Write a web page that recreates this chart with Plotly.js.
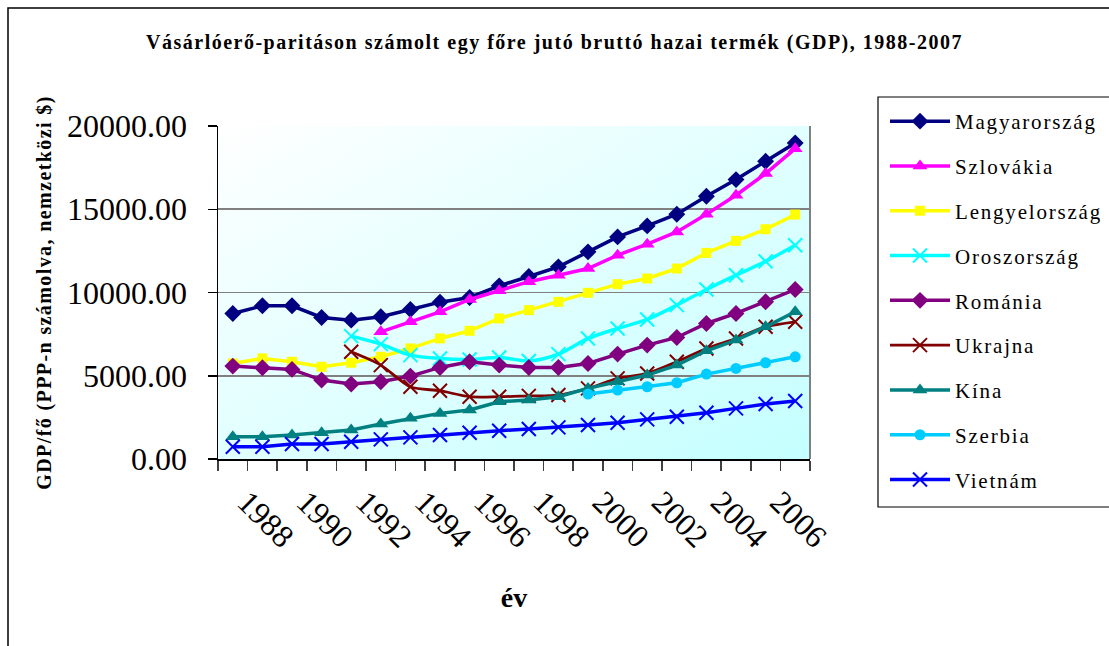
<!DOCTYPE html>
<html>
<head>
<meta charset="utf-8">
<script src="https://cdn.plot.ly/plotly-3.0.1.min.js"></script>
<style>
html,body{margin:0;padding:0;background:#fff;}
.gtitle{letter-spacing:1.5px;}
.ytitle{letter-spacing:1.4px;}
.legendtext{letter-spacing:1.8px;}
</style>
</head>
<body>
<div id="chart" style="width:1109px;height:646px;"></div>
<script>
const years = [1988,1989,1990,1991,1992,1993,1994,1995,1996,1997,1998,1999,2000,2001,2002,2003,2004,2005,2006,2007];
const tickYears = [1988,1990,1992,1994,1996,1998,2000,2002,2004,2006];
const tickLabels = ["1988","1990","1992","1994","1996","1998","2000","2002","2004","2006"];

const magyarorszag = [8740,9200,9200,8500,8340,8540,8980,9420,9700,10400,10960,11540,12440,13340,14000,14700,15780,16780,17880,18980];
const szlovakia = [null,null,null,null,null,7640,8240,8840,9580,10100,10650,11040,11440,12240,12900,13640,14700,15840,17140,18640];
const lengyelorszag = [5740,6040,5840,5540,5780,6140,6640,7240,7700,8440,8940,9440,9980,10500,10840,11440,12380,13100,13800,14680];
const oroszorszag = [null,null,null,null,7380,6900,6240,6040,5980,6100,5890,6300,7240,7840,8380,9240,10180,11040,11870,12840];
const romania = [5580,5480,5380,4740,4500,4640,4980,5500,5840,5640,5500,5500,5740,6300,6840,7300,8140,8740,9440,10180];
const ukrajna = [null,null,null,null,6440,5640,4340,4100,3740,3740,3790,3840,4240,4840,5140,5840,6640,7240,7940,8240];
const kina = [1340,1340,1440,1580,1740,2100,2440,2740,2940,3440,3540,3740,4240,4640,5040,5640,6500,7140,7940,8840];
const szerbia = [null,null,null,null,null,null,null,null,null,null,null,null,3900,4140,4340,4580,5100,5440,5780,6140];
const vietnam = [740,740,900,900,1040,1180,1300,1440,1580,1700,1800,1900,2040,2180,2380,2540,2780,3040,3300,3480];

const FONT = "'Liberation Serif', 'Times New Roman', serif";

function series(name, y, color, symbol, msize, opts) {
  opts = opts || {};
  const xm = symbol.indexOf('x') === 0;
  return {
    type: 'scatter', mode: 'lines+markers', name: name, x: years, y: y,
    legendgroup: name,
    connectgaps: false,
    line: {color: color, width: opts.lw || 3.5, shape: opts.spline ? 'spline' : 'linear', smoothing: 0.8},
    marker: {symbol: symbol, size: msize, color: color,
             line: xm ? {color: color, width: 2} : {width: 0}}
  };
}

const data = [
  series('Magyarország', magyarorszag, '#000080', 'diamond', 13),
  series('Szlovákia', szlovakia, '#FF00FF', 'triangle-up', 13),
  series('Lengyelország', lengyelorszag, '#FFFF00', 'square', 10),
  series('Oroszország', oroszorszag, '#00FFFF', 'x-thin-open', 14, {spline: true}),
  series('Románia', romania, '#800080', 'diamond', 13),
  series('Ukrajna', ukrajna, '#800000', 'x-thin-open', 14, {spline: true, lw: 2.8}),
  series('Kína', kina, '#008080', 'triangle-up', 13),
  series('Szerbia', szerbia, '#00CCFF', 'circle', 11),
  series('Vietnám', vietnam, '#0000FF', 'x-thin-open', 14)
];

// pixel helpers for decorations (plot area 218..810 x 126..459)
const L = 218, R = 810, T = 126, B = 459;
const px = v => (v - L) / (R - L);
const py = v => (B - v) / (B - T);

const grad = "<svg xmlns='http://www.w3.org/2000/svg' width='100' height='100' preserveAspectRatio='none'>" +
  "<defs><linearGradient id='g' x1='0' y1='0' x2='1' y2='1'>" +
  "<stop offset='0' stop-color='#ffffff'/><stop offset='1' stop-color='#c4ffff'/></linearGradient></defs>" +
  "<rect width='100' height='100' fill='url(#g)'/></svg>";

const minorVals = [];
for (let i = 0; i <= years.length; i++) minorVals.push(years[0] - 0.5 + i);

const layout = {
  width: 1109, height: 646,
  margin: {l: L, r: 1109 - R, t: T, b: 646 - B, pad: 0, autoexpand: false},
  paper_bgcolor: '#ffffff',
  plot_bgcolor: 'rgba(0,0,0,0)',
  font: {family: FONT, color: '#000'},
  title: {
    text: 'Vásárlóerő-paritáson számolt egy főre jutó bruttó hazai termék (GDP), 1988-2007',
    font: {family: FONT, size: 20, weight: 'bold', color: '#000'},
    x: 0.5, xref: 'container', y: 1 - 42/646, yref: 'container', yanchor: 'middle'
  },
  xaxis: {
    range: [1987.5, 2007.5],
    tickmode: 'array', tickvals: tickYears, ticktext: tickLabels,
    ticks: '', tickangle: 45,
    ticklabelshift: 14, ticklabelstandoff: 10,
    tickfont: {family: FONT, size: 32, color: '#000'},
    showgrid: false, zeroline: false,
    showline: true, linecolor: '#000', linewidth: 1.5,
    minor: {tickmode: 'array', tickvals: minorVals, ticks: 'outside', ticklen: 10, tickwidth: 1.5, tickcolor: '#404040', showgrid: false},
    title: {text: 'év', font: {family: FONT, size: 28, weight: 'bold', color: '#000'}, standoff: 34}
  },
  yaxis: {
    range: [0, 20000],
    tickmode: 'array', tickvals: [0, 5000, 10000, 15000, 20000],
    tickformat: '.2f',
    ticks: 'outside', ticklen: 9, tickwidth: 1.5, tickcolor: '#000',
    ticklabelstandoff: 14,
    tickfont: {family: FONT, size: 32, color: '#000'},
    showgrid: true, gridcolor: '#808080', gridwidth: 1.8,
    zeroline: false,
    showline: true, linecolor: '#000', linewidth: 1.5,
    title: {text: 'GDP/fő (PPP-n számolva, nemzetközi $)', font: {family: FONT, size: 20, weight: 'bold', color: '#000'}, standoff: 10}
  },
  showlegend: true,
  legend: {
    x: px(885), xanchor: 'left', y: py(101), yanchor: 'top',
    bgcolor: 'rgba(0,0,0,0)', borderwidth: 0,
    font: {family: FONT, size: 21, color: '#000'},
    tracegroupgap: 14.5, traceorder: 'grouped',
    itemwidth: 60, maxheight: 600
  },
  images: [{
    source: 'data:image/svg+xml;charset=utf-8,' + encodeURIComponent(grad),
    xref: 'paper', yref: 'paper', x: 0, y: 1, sizex: 1, sizey: 1,
    sizing: 'stretch', layer: 'below', xanchor: 'left', yanchor: 'top'
  }],
  shapes: [
    {type: 'rect', xref: 'paper', yref: 'paper', x0: px(8), x1: px(1130), y0: py(8), y1: py(680),
     line: {color: '#000', width: 1.5}, fillcolor: 'rgba(0,0,0,0)', layer: 'above'},
    {type: 'line', xref: 'paper', yref: 'paper', x0: 1, x1: 1, y0: 0, y1: 1,
     line: {color: '#808080', width: 2}, layer: 'above'},
    {type: 'rect', xref: 'paper', yref: 'paper', x0: px(878), x1: px(1130), y0: py(97), y1: py(507),
     line: {color: '#000', width: 1.2}, fillcolor: 'rgba(0,0,0,0)', layer: 'above'}
  ]
};

Plotly.newPlot('chart', data, layout, {displayModeBar: false, staticPlot: true});
</script>
</body>
</html>
